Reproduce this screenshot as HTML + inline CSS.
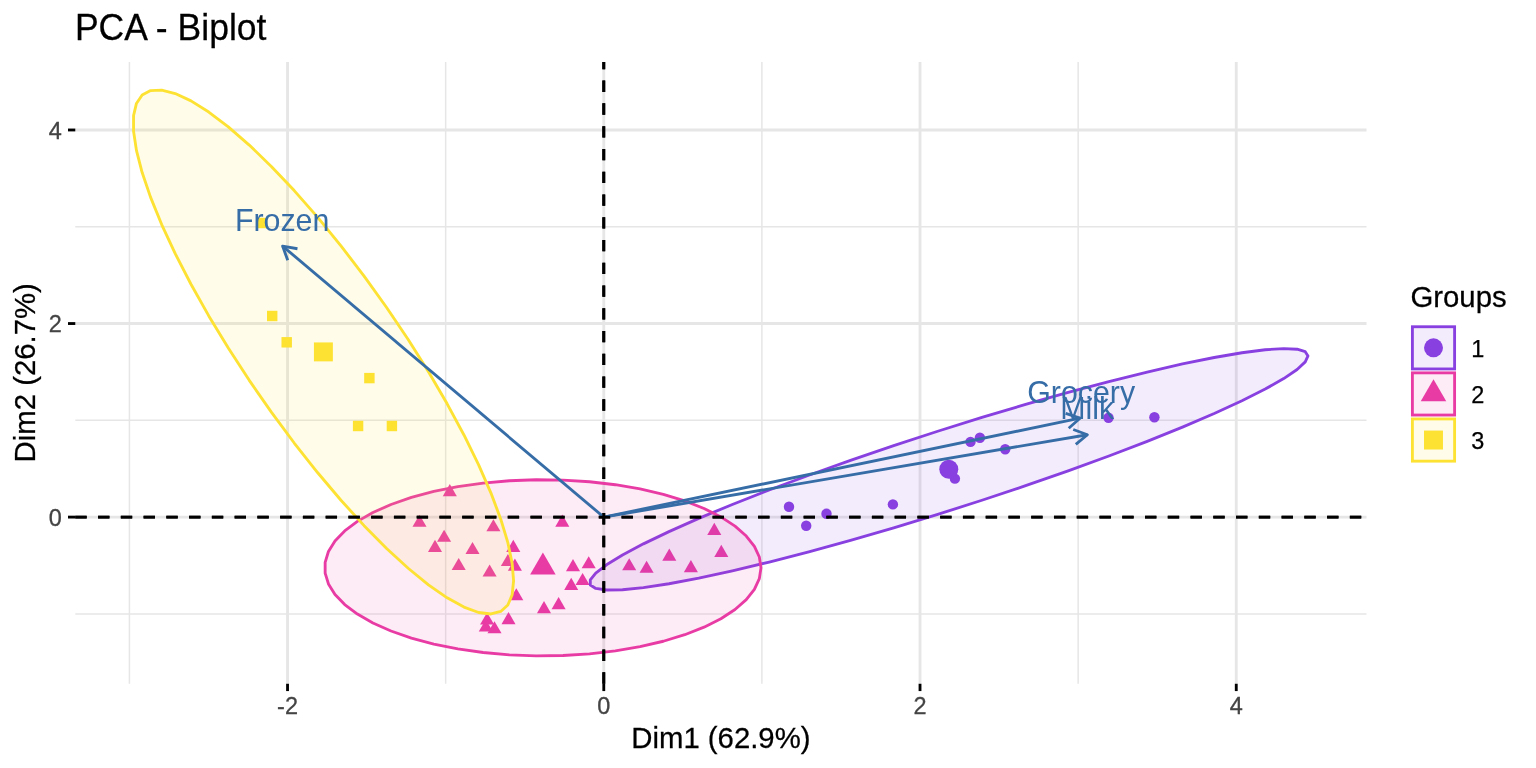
<!DOCTYPE html>
<html lang="en"><head><meta charset="utf-8"><title>PCA - Biplot</title>
<style>html,body{margin:0;padding:0;background:#fff;}body{width:1536px;height:768px;overflow:hidden;}svg{display:block;}text{font-family:"Liberation Sans",Arial,Helvetica,sans-serif;}</style>
</head><body>
<svg width="1536" height="768" viewBox="0 0 1536 768">
<rect width="1536" height="768" fill="#fff"/>
<g stroke="#E6E6E6" fill="none">
<g stroke-width="1.5">
<line x1="129.42" x2="129.42" y1="61.9" y2="683.75"/>
<line x1="445.66" x2="445.66" y1="61.9" y2="683.75"/>
<line x1="761.9" x2="761.9" y1="61.9" y2="683.75"/>
<line x1="1078.14" x2="1078.14" y1="61.9" y2="683.75"/>
<line x1="75.3" x2="1366.5" y1="613.88" y2="613.88"/>
<line x1="75.3" x2="1366.5" y1="420.32" y2="420.32"/>
<line x1="75.3" x2="1366.5" y1="226.76" y2="226.76"/>
</g><g stroke-width="2.85">
<line x1="287.54" x2="287.54" y1="61.9" y2="683.75"/>
<line x1="603.78" x2="603.78" y1="61.9" y2="683.75"/>
<line x1="920.02" x2="920.02" y1="61.9" y2="683.75"/>
<line x1="1236.26" x2="1236.26" y1="61.9" y2="683.75"/>
<line x1="75.3" x2="1366.5" y1="517.1" y2="517.1"/>
<line x1="75.3" x2="1366.5" y1="323.54" y2="323.54"/>
<line x1="75.3" x2="1366.5" y1="129.98" y2="129.98"/>
</g></g>
<g fill="#8840E0">
<circle cx="789" cy="506.8" r="5.21"/>
<circle cx="806.2" cy="525.8" r="5.21"/>
<circle cx="826.5" cy="513.8" r="5.21"/>
<circle cx="892.9" cy="504.4" r="5.21"/>
<circle cx="954.9" cy="478.6" r="5.21"/>
<circle cx="970.5" cy="441.9" r="5.21"/>
<circle cx="979.9" cy="437.8" r="5.21"/>
<circle cx="1005.2" cy="449.2" r="5.21"/>
<circle cx="1108.5" cy="417.7" r="5.21"/>
<circle cx="1154.4" cy="417.2" r="5.21"/>
</g>
<g fill="#E83CA4">
<polygon points="449.8,484 456.82,496.15 442.78,496.15"/>
<polygon points="419.5,514.7 426.52,526.85 412.48,526.85"/>
<polygon points="493.4,519.2 500.42,531.35 486.38,531.35"/>
<polygon points="562.3,514.5 569.32,526.65 555.28,526.65"/>
<polygon points="444.1,529.7 451.12,541.85 437.08,541.85"/>
<polygon points="435,539.8 442.02,551.95 427.98,551.95"/>
<polygon points="472.5,541.9 479.52,554.05 465.48,554.05"/>
<polygon points="513.3,539.8 520.32,551.95 506.28,551.95"/>
<polygon points="458.7,557.9 465.72,570.05 451.68,570.05"/>
<polygon points="507.9,553.9 514.92,566.05 500.88,566.05"/>
<polygon points="514.9,558.6 521.92,570.75 507.88,570.75"/>
<polygon points="489.6,564.4 496.62,576.55 482.58,576.55"/>
<polygon points="573,559 580.02,571.15 565.98,571.15"/>
<polygon points="588.7,556.2 595.72,568.35 581.68,568.35"/>
<polygon points="582.6,572.9 589.62,585.05 575.58,585.05"/>
<polygon points="571.2,577.8 578.22,589.95 564.18,589.95"/>
<polygon points="516.3,588.2 523.32,600.35 509.28,600.35"/>
<polygon points="558.6,597.1 565.62,609.25 551.58,609.25"/>
<polygon points="544,601 551.02,613.15 536.98,613.15"/>
<polygon points="508.5,612.1 515.52,624.25 501.48,624.25"/>
<polygon points="487.1,612.4 494.12,624.55 480.08,624.55"/>
<polygon points="485.8,619.4 492.82,631.55 478.78,631.55"/>
<polygon points="494.5,621.2 501.52,633.35 487.48,633.35"/>
<polygon points="629.2,558.2 636.22,570.35 622.18,570.35"/>
<polygon points="646.6,560.7 653.62,572.85 639.58,572.85"/>
<polygon points="669.3,548.6 676.32,560.75 662.28,560.75"/>
<polygon points="690.9,560 697.92,572.15 683.88,572.15"/>
<polygon points="714.3,522.8 721.32,534.95 707.28,534.95"/>
<polygon points="721.3,544.8 728.32,556.95 714.28,556.95"/>
</g>
<g fill="#FDE233">
<rect x="266.99" y="310.79" width="10.42" height="10.42"/>
<rect x="281.49" y="337.09" width="10.42" height="10.42"/>
<rect x="364.19" y="372.89" width="10.42" height="10.42"/>
<rect x="352.89" y="420.79" width="10.42" height="10.42"/>
<rect x="386.69" y="420.79" width="10.42" height="10.42"/>
<rect x="256.79" y="217.79" width="10.42" height="10.42"/>
</g>
<g stroke-width="2.85" stroke-linejoin="round" fill-opacity="0.1">
<polygon fill="#8840E0" stroke="#8840E0" points="1307.97,355.93 1305.25,361.9 1297.12,369.49 1283.72,378.61 1265.23,389.09 1241.96,400.79 1214.23,413.53 1182.48,427.12 1147.19,441.35 1108.9,456 1068.17,470.85 1025.64,485.68 981.94,500.26 937.74,514.37 893.71,527.8 850.51,540.34 808.8,551.81 769.21,562.03 732.35,570.84 698.77,578.11 668.98,583.73 643.43,587.62 622.5,589.71 606.53,589.98 595.74,588.42 590.31,585.06 590.31,579.94 595.74,573.14 606.53,564.77 622.5,554.95 643.43,543.84 668.98,531.59 698.77,518.4 732.35,504.47 769.21,490.01 808.8,475.23 850.51,460.36 893.71,445.62 937.74,431.25 981.94,417.45 1025.64,404.44 1068.17,392.42 1108.9,381.56 1147.19,372.02 1182.48,363.97 1214.23,357.51 1241.96,352.75 1265.23,349.75 1283.72,348.56 1297.12,349.21 1305.25,351.68"/>
<polygon fill="#E83CA4" stroke="#E83CA4" points="760.99,567.84 759.34,578.66 754.4,589.32 746.26,599.65 735.04,609.5 720.9,618.72 704.06,627.17 684.78,634.71 663.35,641.24 640.09,646.66 615.36,650.88 589.52,653.84 562.99,655.5 536.14,655.82 509.4,654.82 483.16,652.49 457.83,648.88 433.79,644.04 411.4,638.04 391.01,630.98 372.92,622.96 357.4,614.11 344.69,604.55 334.99,594.43 328.44,583.91 325.14,573.15 325.14,562.31 328.44,551.54 334.99,541.03 344.69,530.92 357.4,521.37 372.92,512.52 391.01,504.51 411.4,497.46 433.79,491.47 457.83,486.64 483.16,483.05 509.4,480.73 536.14,479.74 562.99,480.08 589.52,481.75 615.36,484.72 640.09,488.96 663.35,494.39 684.78,500.93 704.06,508.48 720.9,516.93 735.04,526.16 746.26,536.01 754.4,546.35 759.34,557.01"/>
<polygon fill="#FDE233" stroke="#FDE233" points="513.6,580.77 512.16,594.74 507.86,605.02 500.76,611.46 490.97,613.97 478.64,612.51 463.96,607.1 447.15,597.81 428.46,584.8 408.18,568.26 386.61,548.44 364.09,525.64 340.95,500.21 317.54,472.53 294.22,443.02 271.35,412.12 249.26,380.32 228.3,348.08 208.78,315.91 191,284.27 175.22,253.67 161.69,224.55 150.61,197.36 142.15,172.52 136.44,150.39 133.56,131.32 133.56,115.6 136.44,103.45 142.15,95.07 150.61,90.59 161.69,90.06 175.22,93.51 191,100.87 208.78,112.04 228.3,126.84 249.26,145.06 271.35,166.41 294.22,190.57 317.54,217.18 340.95,245.83 364.09,276.09 386.61,307.49 408.18,339.57 428.46,371.84 447.15,403.81 463.96,434.99 478.64,464.91 490.97,493.11 500.76,519.18 507.86,542.71 512.16,563.34"/>
</g>
<g fill="#8840E0"><circle cx="948.8" cy="469.3" r="9.48"/></g>
<g fill="#E83CA4"><polygon points="542.9,552.46 555.66,574.57 530.14,574.57"/></g>
<g fill="#FDE233"><rect x="313.92" y="342.42" width="18.95" height="18.95"/></g>
<g stroke="#000" stroke-width="2.85" stroke-dasharray="11.38 11.38" fill="none">
<line x1="75.3" x2="1366.5" y1="517.1" y2="517.1"/>
<line x1="603.78" x2="603.78" y1="683.75" y2="61.9"/>
</g>
<g stroke="#366DA7" stroke-width="2.85" fill="none" stroke-linejoin="round" stroke-linecap="butt">
<path d="M603.78 517.1L282.6 246.1"/><path d="M287.73 260.3L282.6 246.1L297.46 248.76"/>
<path d="M603.78 517.1L1080 418.2"/><path d="M1065.66 413.47L1080 418.2L1068.73 428.25"/>
<path d="M603.78 517.1L1087.4 434.74"/><path d="M1073.24 429.49L1087.4 434.74L1075.78 444.38"/>
</g>
<g fill="#366DA7" font-size="30.35" text-anchor="middle">
<text transform="translate(282.1 230.8) scale(1 1.03)">Frozen</text>
<text transform="translate(1081.2 402.9) scale(1 1.03)">Grocery</text>
<text transform="translate(1087.2 419.4) scale(1 1.03)">Milk</text>
</g>
<g stroke="#000" stroke-width="2.85" stroke-dasharray="11.38 11.38" fill="none">
<line x1="75.3" x2="1366.5" y1="517.1" y2="517.1"/>
<line x1="603.78" x2="603.78" y1="683.75" y2="61.9"/>
</g>
<g stroke="#000000" stroke-width="2.85">
<line x1="287.54" x2="287.54" y1="683.75" y2="691.08"/>
<line x1="603.78" x2="603.78" y1="683.75" y2="691.08"/>
<line x1="920.02" x2="920.02" y1="683.75" y2="691.08"/>
<line x1="1236.26" x2="1236.26" y1="683.75" y2="691.08"/>
<line x1="67.97" x2="75.3" y1="517.1" y2="517.1"/>
<line x1="67.97" x2="75.3" y1="323.54" y2="323.54"/>
<line x1="67.97" x2="75.3" y1="129.98" y2="129.98"/>
</g>
<g fill="#444444" stroke="#444444" stroke-width="0.3" font-size="23.47">
<g text-anchor="middle">
<text x="287.54" y="714.4">-2</text>
<text x="603.78" y="714.4">0</text>
<text x="920.02" y="714.4">2</text>
<text x="1236.26" y="714.4">4</text>
</g><g text-anchor="end">
<text x="61.7" y="526">0</text>
<text x="61.7" y="332.44">2</text>
<text x="61.7" y="138.88">4</text>
</g></g>
<g fill="#000" stroke="#000" stroke-width="0.25">
<text transform="translate(74.9 40) scale(1.01 1.025)" font-size="35.2">PCA - Biplot</text>
<text transform="translate(720.9 748) scale(1 1.02)" font-size="29.33" text-anchor="middle">Dim1 (62.9%)</text>
<text transform="translate(35.2 372.8) rotate(-90) scale(1 1.02)" font-size="29.33" text-anchor="middle">Dim2 (26.7%)</text>
<text transform="translate(1410.5 306.9) scale(1 1.02)" font-size="29.33">Groups</text>
<g font-size="23.47">
<text x="1471.2" y="356.75">1</text>
<text x="1471.2" y="402.85">2</text>
<text x="1471.2" y="448.95">3</text>
</g></g>
<rect x="1412.4" y="326.75" width="42.2" height="42.2" fill="#8840E0" fill-opacity="0.1" stroke="#8840E0" stroke-width="2.85"/>
<g fill="#8840E0"><circle cx="1433.5" cy="347.85" r="9.48"/></g>
<rect x="1412.4" y="372.85" width="42.2" height="42.2" fill="#E83CA4" fill-opacity="0.1" stroke="#E83CA4" stroke-width="2.85"/>
<g fill="#E83CA4"><polygon points="1433.5,379.21 1446.26,401.32 1420.74,401.32"/></g>
<rect x="1412.4" y="418.95" width="42.2" height="42.2" fill="#FDE233" fill-opacity="0.1" stroke="#FDE233" stroke-width="2.85"/>
<g fill="#FDE233"><rect x="1424.02" y="430.57" width="18.95" height="18.95"/></g>
</svg>
</body></html>
